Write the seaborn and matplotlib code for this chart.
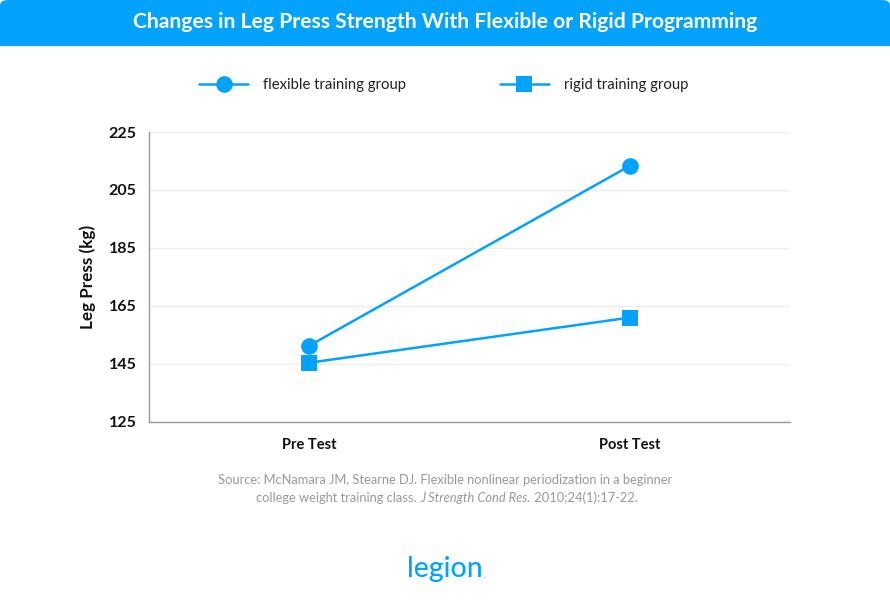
import matplotlib
matplotlib.use("Agg")
import matplotlib.pyplot as plt
import seaborn as sns
import pandas as pd
from matplotlib.patches import FancyBboxPatch, Rectangle

# ---- data ----
phases = ["Pre Test", "Post Test"]
flexible = [151.2, 213.3]
rigid = [145.3, 160.9]
group_names = ["flexible training group", "rigid training group"]
y_ticks = [125, 145, 165, 185, 205, 225]

title = "Changes in Leg Press Strength With Flexible or Rigid Programming"
source_line1 = "Source: McNamara JM, Stearne DJ. Flexible nonlinear periodization in a beginner"

df = pd.DataFrame({
    "phase": phases * 2,
    "value": flexible + rigid,
    "group": [group_names[0]] * 2 + [group_names[1]] * 2,
})

sns.set_theme(style="white")
plt.rcParams["font.family"] = ["Lato", "DejaVu Sans"]

BLUE = "#03a2fc"
W, H = 890, 604
fig = plt.figure(figsize=(W / 100, H / 100), dpi=100)
fig.patch.set_facecolor("white")

# banner
fig.patches.append(FancyBboxPatch((0, 1 - 46 / H), 1, 46 / H,
                                  boxstyle="round,pad=0,rounding_size=0.009",
                                  transform=fig.transFigure, facecolor=BLUE,
                                  edgecolor="none", zorder=0))
fig.patches.append(Rectangle((0, 1 - 46 / H), 1, 25 / H, transform=fig.transFigure,
                             facecolor=BLUE, edgecolor="none", zorder=0))
fig.text(0.5, 1 - 22 / H, title, ha="center", va="center", color="white",
         fontsize=15.2, fontweight="bold")

left, right, top, bottom = 149, 790, 132, 421.5
ax = fig.add_axes([left / W, 1 - bottom / H, (right - left) / W, (bottom - top) / H])

sns.lineplot(data=df, x="phase", y="value", hue="group", style="group",
             markers={group_names[0]: "o", group_names[1]: "s"}, dashes=False,
             palette=[BLUE, BLUE], markersize=12, linewidth=1.8,
             markeredgewidth=0, ax=ax, sort=False)

ax.set_xlim(-0.5, 1.5)
ax.set_ylim(125, 225)
ax.set_yticks(y_ticks)
ax.set_yticklabels([str(t) for t in y_ticks], fontsize=11.5, fontweight="bold", color="#111111")
ax.set_xticks([0, 1])
ax.set_xticklabels(phases, fontsize=10.5, fontweight="bold", color="#111111")
ax.set_xticks([-0.5, 0.5, 1.5], minor=True)
ax.tick_params(axis="x", which="major", length=0, pad=12)
ax.tick_params(axis="x", which="minor", length=6, color="#999999", width=1, direction="out")
ax.tick_params(axis="y", which="major", length=6, color="#999999", width=1, direction="out", pad=3)
ax.grid(axis="y", color="#eeeeee", linewidth=1)
ax.set_axisbelow(True)
for s in ["top", "right"]:
    ax.spines[s].set_visible(False)
for s in ["left", "bottom"]:
    ax.spines[s].set_color("#999999")
    ax.spines[s].set_linewidth(1)
ax.set_xlabel("")
ax.set_ylabel("Leg Press (kg)", fontsize=12.3, fontweight="bold", color="#111111", labelpad=9)

handles, labels = ax.get_legend_handles_labels()
ax.get_legend().remove()
fig.legend(handles, labels, loc="center left", bbox_to_anchor=(186 / W, 1 - 85 / H),
           ncol=2, frameon=False, fontsize=10.7, handlelength=3.3, handletextpad=1.0,
           columnspacing=6.3, labelcolor="#222222")

fig.text(0.5, 1 - 480 / H, source_line1, ha="center", va="center",
         fontsize=9.3, color="#999999")
# second source line with italic journal name
fig.canvas.draw()
r = fig.canvas.get_renderer()
parts = [("college weight training class. ", "normal"), ("J Strength Cond Res.", "italic"),
         (" 2010;24(1):17-22.", "normal")]
texts = []
x = 0
for s, st in parts:
    t = fig.text(x, 1 - 498 / H, s, ha="left", va="center", fontsize=9.3,
                 color="#999999", style=st)
    bb = t.get_window_extent(r)
    texts.append((t, bb.width))
    x += bb.width / W
total = x
x0 = 0.5 - total / 2 + 2 / W
for t, w in texts:
    t.set_x(x0)
    x0 += w / W

fig.text(0.5, 1 - 569 / H, "legion", ha="center", va="center", fontsize=20.5,
         color=BLUE, fontweight="medium")
fig.text(485 / W, 1 - 576 / H, ".", ha="center", va="center", fontsize=6, color=BLUE)

fig.savefig("out.png", dpi=100, facecolor="white")
